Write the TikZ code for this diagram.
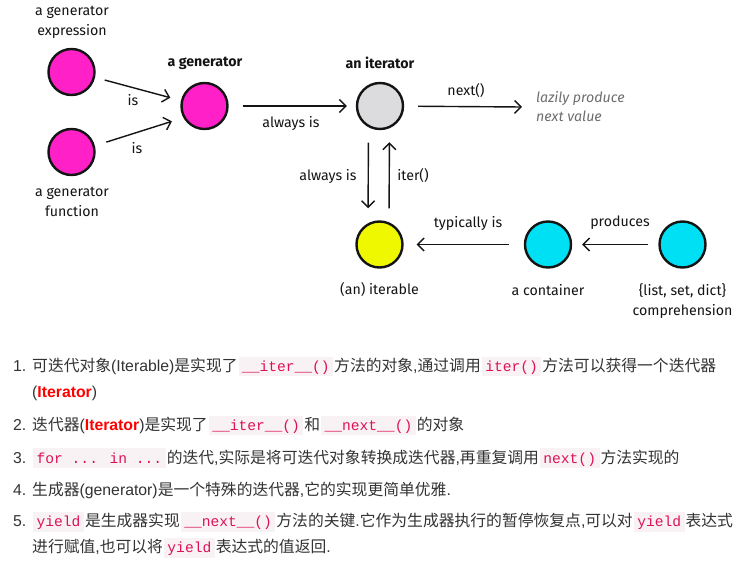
\documentclass[tikz,border=0pt]{standalone}
\usepackage{fontspec}
\setmainfont{Liberation Sans}
\newfontfamily\cjk{Noto Sans CJK SC}
\newfontfamily\diagfont{Fira Sans}
\newfontfamily\codefont{Liberation Mono}
\usetikzlibrary{arrows.meta}
\definecolor{ink}{RGB}{20,20,20}
\definecolor{genpink}{RGB}{255,32,200}
\definecolor{itergray}{RGB}{220,220,222}
\definecolor{iteryellow}{RGB}{240,248,0}
\definecolor{contcyan}{RGB}{0,224,244}
\definecolor{lazygray}{RGB}{110,110,110}
\definecolor{bodyink}{RGB}{51,51,51}
\definecolor{keyred}{RGB}{255,0,0}
\definecolor{codefg}{RGB}{221,17,85}
\definecolor{codebg}{RGB}{249,242,244}

\newcommand\zh[1]{{\cjk #1}}
\newcommand\inlinecode[1]{\kern1pt{\setlength\fboxsep{0pt}\colorbox{codebg}{\rule[-5pt]{0pt}{19.5pt}\hspace{3.5pt}{\codefont\fontsize{14.6}{17}\selectfont\color{codefg}#1}\hspace{3.5pt}}}\kern1pt}

\begin{document}
\begin{tikzpicture}[x=1pt, y=-1pt,
    every node/.style={inner sep=0pt},
    dot/.style={circle, draw=ink, line width=2.4pt, minimum size=46pt},
    tag/.style={font=\diagfont\fontsize{14.2}{20}\selectfont, text=ink, align=center},
    link/.style={draw=ink, line width=1.4pt, -{Straight Barb[length=6.5pt,width=13pt]}},
    item/.style={anchor=base west, font=\fontsize{15.8}{19}\selectfont, text=bodyink}]
  \useasboundingbox[fill=white] (0,0) rectangle (756,572);

  % circles
  \node[dot, fill=genpink] (genexpr) at (71.5,72) {};
  \node[dot, fill=genpink] (genfunc) at (71.5,152) {};
  \node[dot, fill=genpink] (gen) at (204.5,106) {};
  \node[dot, fill=itergray] (iter) at (380,106) {};
  \node[dot, fill=iteryellow] (iterable) at (379.5,244.5) {};
  \node[dot, fill=contcyan] (container) at (548,244.5) {};
  \node[dot, fill=contcyan] (compr) at (682.5,244.5) {};
  \coordinate (nextend) at (522,107);

  % captions
  \node[tag] at (72,22) {a generator\\expression};
  \node[tag] at (72,202) {a generator\\function};
  \node[tag, font=\diagfont\bfseries\fontsize{14.2}{20}\selectfont] at (205,63) {a generator};
  \node[tag, font=\diagfont\bfseries\fontsize{14.2}{20}\selectfont] at (380,63) {an iterator};
  \node[tag] at (379.5,290) {(an) iterable};
  \node[tag] at (548,290) {a container};
  \node[tag] at (682.5,301.5) {\{list, set, dict\}\\comprehension};
  \node[tag, anchor=west, align=left, text=lazygray, font=\diagfont\itshape\fontsize{14.2}{19}\selectfont] at (536,106.5) {lazily produce\\next value};

  % connectors
  \draw[link, shorten <=10pt, shorten >=11pt] (genexpr.347) -- (gen.167);
  \draw[link, shorten <=12pt, shorten >=12pt] (genfunc.15) -- (gen.209);
  \draw[link, shorten <=14pt, shorten >=9pt] (gen) -- (iter);
  \draw[link, shorten <=14pt] (iter) -- (nextend);
  \draw[link, shorten <=12.5pt, shorten >=12pt] ([xshift=-11.5pt]iter.south) -- ([xshift=-11.5pt]iterable.north);
  \draw[link, shorten <=12pt, shorten >=12pt] ([xshift=9.5pt]iterable.north) -- ([xshift=9.5pt]iter.south);
  \draw[link, shorten <=15pt, shorten >=13pt] (container) -- (iterable);
  \draw[link, shorten <=10pt, shorten >=10pt] (compr) -- (container);

  % connector labels
  \node[tag] at (133,100) {is};
  \node[tag] at (137,148) {is};
  \node[tag] at (291,123) {always is};
  \node[tag] at (466,91) {next()};
  \node[tag] at (328,176) {always is};
  \node[tag] at (413,176) {iter()};
  \node[tag] at (468,223) {typically is};
  \node[tag] at (620,223) {produces};

  % notes
  \node[item] (n1) at (13,371.5) {1.};
  \node[item] (t1) at (32,371.5) {\zh{可迭代对象}(Iterable)\zh{是实现了}\inlinecode{\_\_iter\_\_()}\zh{方法的对象},\zh{通过调用}\inlinecode{iter()}\zh{方法可以获得一个迭代器}};
  \node[item] (t1b) at (32,398) {({\bfseries\color{keyred}Iterator})};
  \node[item] (n2) at (13,430.5) {2.};
  \node[item] (t2) at (32,430.5) {\zh{迭代器}({\bfseries\color{keyred}Iterator})\zh{是实现了}\inlinecode{\_\_iter\_\_()}\zh{和}\inlinecode{\_\_next\_\_()}\zh{的对象}};
  \node[item] (n3) at (13,463) {3.};
  \node[item] (t3) at (32,463) {\inlinecode{for ... in ...}\zh{的迭代},\zh{实际是将可迭代对象转换成迭代器},\zh{再重复调用}\inlinecode{next()}\zh{方法实现的}};
  \node[item] (n4) at (13,495.5) {4.};
  \node[item] (t4) at (32,495.5) {\zh{生成器}(generator)\zh{是一个特殊的迭代器},\zh{它的实现更简单优雅}.};
  \node[item] (n5) at (13,526.5) {5.};
  \node[item] (t5) at (32,526.5) {\inlinecode{yield}\zh{是生成器实现}\inlinecode{\_\_next\_\_()}\zh{方法的关键}.\zh{它作为生成器执行的暂停恢复点},\zh{可以对}\inlinecode{yield}\zh{表达式}};
  \node[item] (t5b) at (32,552.5) {\zh{进行赋值},\zh{也可以将}\inlinecode{yield}\zh{表达式的值返回}.};
\end{tikzpicture}
\end{document}
